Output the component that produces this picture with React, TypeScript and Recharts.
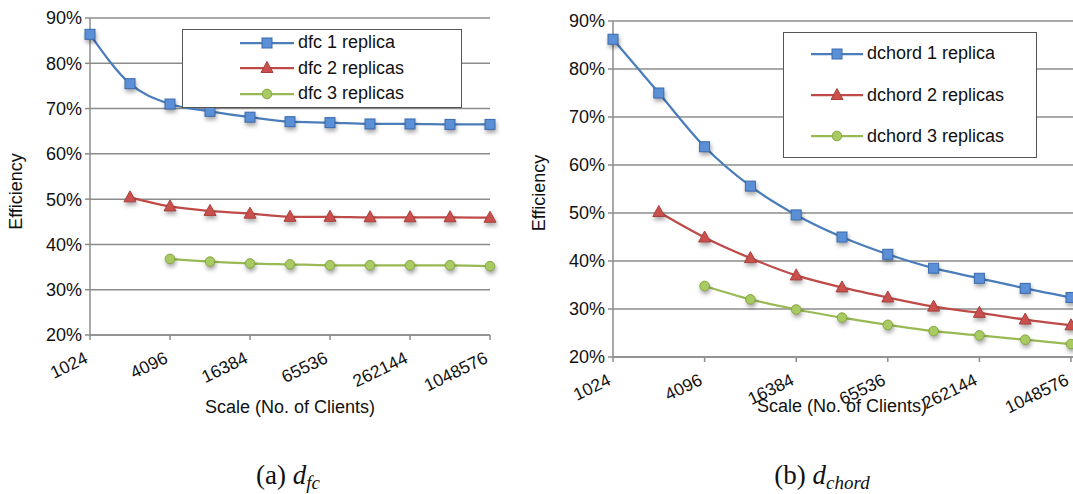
import React from "react";
import { LineChart, Line, XAxis, YAxis, CartesianGrid, Legend } from "recharts";

const CLIENTS = ["1024", "2048", "4096", "8192", "16384", "32768", "65536", "131072", "262144", "524288", "1048576"];
const Y_TICKS = [20, 30, 40, 50, 60, 70, 80, 90];

const DFC_1 = [86.4, 75.5, 71.0, 69.4, 68.1, 67.1, 66.9, 66.6, 66.6, 66.5, 66.5];
const DFC_2 = [null, 50.4, 48.4, 47.4, 46.8, 46.1, 46.1, 46.0, 46.0, 46.0, 45.9];
const DFC_3 = [null, null, 36.8, 36.2, 35.8, 35.6, 35.4, 35.4, 35.4, 35.4, 35.2];

const DCHORD_1 = [86.2, 75.0, 63.8, 55.6, 49.6, 45.0, 41.4, 38.5, 36.4, 34.3, 32.4];
const DCHORD_2 = [null, 50.2, 44.9, 40.6, 37.0, 34.5, 32.4, 30.5, 29.2, 27.8, 26.6];
const DCHORD_3 = [null, null, 34.8, 32.0, 29.9, 28.2, 26.7, 25.4, 24.5, 23.6, 22.7];

const FONT = "'Liberation Sans', Arial, sans-serif";
const SERIF = "'Liberation Serif', 'Times New Roman', serif";
const GRID = "#8c8c8c";
const FS = 18;

type Shape = "square" | "triangle" | "circle";
const STYLES: { shape: Shape; stroke: string; fill: string; edge: string }[] = [
  { shape: "square", stroke: "#4a7ebb", fill: "#5b8fd6", edge: "#3b6aad" },
  { shape: "triangle", stroke: "#be4b48", fill: "#c9504c", edge: "#a83f3c" },
  { shape: "circle", stroke: "#98b954", fill: "#a8ca62", edge: "#86a640" },
];

function Marker({ shape, fill, edge, cx, cy, shadow = true }: any) {
  const style = shadow ? { filter: "drop-shadow(1px 3px 2px rgba(0,0,0,0.35))" } : undefined;
  if (shape === "square")
    return <rect x={cx - 5} y={cy - 5} width={10} height={10} fill={fill} stroke={edge} strokeWidth={1} style={style} />;
  if (shape === "triangle")
    return <polygon points={`${cx},${cy - 6.5} ${cx + 6},${cy + 4.5} ${cx - 6},${cy + 4.5}`} fill={fill} stroke={edge} strokeWidth={1} style={style} />;
  return <circle cx={cx} cy={cy} r={4.8} fill={fill} stroke={edge} strokeWidth={1} style={style} />;
}

const dotFor = (i: number) => (props: any) => {
  const { cx, cy, index } = props;
  if (cx == null || cy == null || props.value == null) return <g key={index} />;
  const s = STYLES[i];
  return <Marker key={index} shape={s.shape} fill={s.fill} edge={s.edge} cx={cx} cy={cy} />;
};

const XTick = ({ x, y, payload }: any) => {
  const tx = x - 1;
  const ty = y + 20;
  return (
    <text x={tx} y={ty} transform={`rotate(-26, ${tx}, ${ty})`} textAnchor="end" fontSize={17.5} fontFamily={FONT} fill="#111">
      {payload.value}
    </text>
  );
};

function LegendBox({ names, width, rowGap, padTop, lineLeft, lineLen }: any) {
  return (
    <div style={{ width, border: "1px solid #555", background: "#fff", boxSizing: "border-box", paddingTop: padTop, paddingBottom: padTop }}>
      {names.map((n: string, i: number) => {
        const s = STYLES[i];
        return (
          <div key={n} style={{ display: "flex", alignItems: "center", height: rowGap }}>
            <svg width={lineLen} height={16} style={{ marginLeft: lineLeft, flex: "none" }}>
              <line x1={0} y1={8} x2={lineLen} y2={8} stroke={s.stroke} strokeWidth={2.25} />
              <Marker shape={s.shape} fill={s.fill} edge={s.edge} cx={lineLen / 2} cy={8} shadow={false} />
            </svg>
            <span style={{ fontFamily: FONT, fontSize: FS, color: "#111", marginLeft: 4, whiteSpace: "nowrap" }}>{n}</span>
          </div>
        );
      })}
    </div>
  );
}

function Panel({ series, names, width, height, top, yAxisWidth, xAxisHeight, padRight, marginRight, legend, yLabelX, yLabelDy, xLabelDy }: any) {
  const data = CLIENTS.map((c, i) => ({ c, s0: series[0][i], s1: series[1][i], s2: series[2][i] }));
  return (
    <LineChart width={width} height={height} data={data} margin={{ top, right: marginRight, bottom: 0, left: 0 }}>
      <CartesianGrid horizontal vertical={false} stroke={GRID} strokeWidth={1.5} />
      <XAxis
        dataKey="c"
        interval={1}
        height={xAxisHeight}
        padding={{ left: 0, right: padRight }}
        tick={<XTick />}
        tickSize={5}
        stroke={GRID}
        strokeWidth={1.5}
        label={{
          value: "Scale (No. of Clients)",
          content: (p: any) => {
            const vb = p.viewBox;
            return (
              <text x={vb.x + (vb.width - padRight) / 2} y={vb.y + xLabelDy} textAnchor="middle" fontSize={FS} fontFamily={FONT} fill="#111">
                Scale (No. of Clients)
              </text>
            );
          },
        }}
      />
      <YAxis
        domain={[20, 90]}
        ticks={Y_TICKS}
        width={yAxisWidth}
        tickFormatter={(v: number) => `${v}%`}
        tick={{ fontSize: FS, fontFamily: FONT, fill: "#111" }}
        tickSize={5}
        tickMargin={3}
        stroke={GRID}
        strokeWidth={1.5}
        label={{
          value: "Efficiency",
          content: (p: any) => {
            const vb = p.viewBox;
            const lx = vb.x + yLabelX;
            const ly = vb.y + vb.height / 2 + yLabelDy;
            return (
              <text x={lx} y={ly} transform={`rotate(-90, ${lx}, ${ly})`} textAnchor="middle" dominantBaseline="middle" fontSize={FS} fontFamily={FONT} fill="#111">
                Efficiency
              </text>
            );
          },
        }}
      />
      <Legend
        layout="vertical"
        align="center"
        verticalAlign="middle"
        wrapperStyle={{ left: legend.left, top: legend.top, width: legend.width }}
        content={() => <LegendBox names={names} {...legend} />}
      />
      {[0, 1, 2].map((i) => (
        <Line
          key={i}
          type="monotone"
          dataKey={`s${i}`}
          name={names[i]}
          stroke={STYLES[i].stroke}
          strokeWidth={2.25}
          dot={dotFor(i)}
          activeDot={false}
          isAnimationActive={false}
        />
      ))}
    </LineChart>
  );
}

const captionStyle: React.CSSProperties = {
  position: "absolute",
  top: 462,
  width: 240,
  textAlign: "center",
  fontFamily: SERIF,
  fontSize: 27,
  lineHeight: "27px",
  color: "#111",
  whiteSpace: "nowrap",
};

export default function App() {
  return (
    <div style={{ position: "relative", width: 1073, height: 494, background: "#fff", overflow: "hidden" }}>
      <style>{"body{margin:0}"}</style>
      <div style={{ position: "absolute", left: 0, top: 0 }}>
        <Panel
          series={[DFC_1, DFC_2, DFC_3]}
          names={["dfc 1 replica", "dfc 2 replicas", "dfc 3 replicas"]}
          width={500}
          height={420}
          top={18}
          yAxisWidth={90}
          xAxisHeight={85}
          padRight={0}
          marginRight={10}
          yLabelX={17.5}
          yLabelDy={15}
          xLabelDy={78}
          legend={{ left: 182, top: 29, width: 280, rowGap: 25.5, padTop: 0, lineLeft: 57, lineLen: 54 }}
        />
      </div>
      <div style={{ position: "absolute", left: 520, top: 0 }}>
        <Panel
          series={[DCHORD_1, DCHORD_2, DCHORD_3]}
          names={["dchord 1 replica", "dchord 2 replicas", "dchord 3 replicas"]}
          width={553}
          height={430}
          top={21}
          yAxisWidth={93}
          xAxisHeight={73}
          padRight={2}
          marginRight={0}
          yLabelX={20}
          yLabelDy={4}
          xLabelDy={55}
          legend={{ left: 263, top: 32, width: 254, rowGap: 41.4, padTop: 0, lineLeft: 27, lineLen: 52 }}
        />
      </div>
      <div style={{ ...captionStyle, left: 288 - 120 }}>
        (a) <i>d<sub style={{ fontSize: 19, verticalAlign: -5, lineHeight: 0 }}>fc</sub></i>
      </div>
      <div style={{ ...captionStyle, left: 822 - 120 }}>
        (b) <i>d<sub style={{ fontSize: 19, verticalAlign: -5, lineHeight: 0 }}>chord</sub></i>
      </div>
    </div>
  );
}
